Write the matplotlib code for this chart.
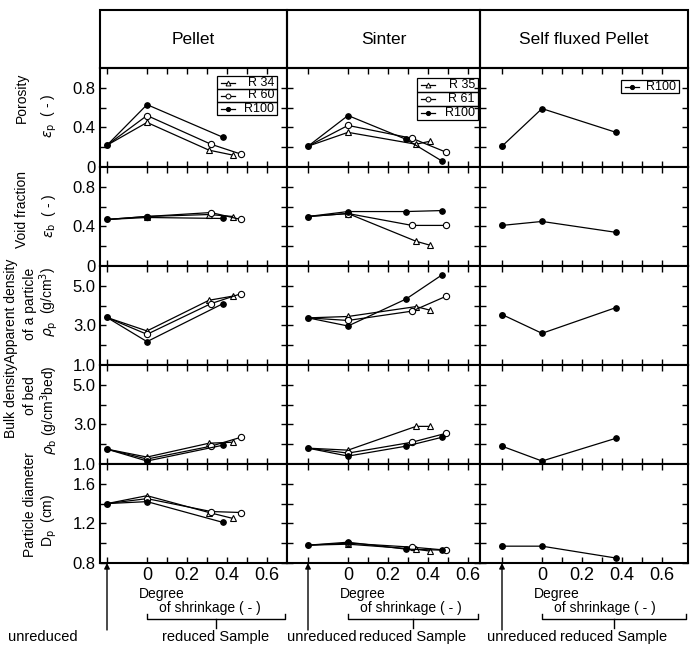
import matplotlib
matplotlib.use("Agg")
import matplotlib.pyplot as plt
from matplotlib.transforms import Affine2D
from matplotlib.patches import Rectangle
from matplotlib.lines import Line2D

plt.rcParams['font.family'] = ['Liberation Sans', 'DejaVu Sans']
plt.rcParams['mathtext.fontset'] = 'dejavusans'

W, H = 696, 648

columns = ["Pellet", "Sinter", "Self fluxed Pellet"]

# unreduced sample is drawn at shrinkage = -0.2
x_unreduced = -0.2

# degree of shrinkage of the reduced samples
pellet_r34_x = [0.0, 0.31, 0.43]
pellet_r60_x = [0.0, 0.32, 0.47]
pellet_r100_x = [0.0, 0.38]
sinter_r35_x = [0.0, 0.34, 0.41]
sinter_r61_x = [0.0, 0.32, 0.49]
sinter_r100_x = [0.0, 0.29, 0.47]
selfp_r100_x = [0.0, 0.37]

# rows: porosity, void fraction, apparent density, bulk density, particle diameter
pellet_unreduced = [0.22, 0.47, 3.40, 1.75, 1.40]
sinter_unreduced = [0.21, 0.50, 3.38, 1.80, 0.98]
selfp_unreduced = [0.21, 0.41, 3.55, 1.90, 0.97]

pellet_r34 = [[0.45, 0.17, 0.12], [0.50, 0.52, 0.50], [2.72, 4.27, 4.48],
              [1.35, 2.05, 2.10], [1.48, 1.31, 1.25]]
pellet_r60 = [[0.52, 0.23, 0.13], [0.50, 0.54, 0.47], [2.55, 4.10, 4.60],
              [1.25, 1.90, 2.35], [1.45, 1.32, 1.31]]
pellet_r100 = [[0.63, 0.30], [0.49, 0.48], [2.18, 4.10], [1.15, 1.95], [1.42, 1.21]]

sinter_r35 = [[0.35, 0.23, 0.26], [0.53, 0.25, 0.21], [3.45, 3.95, 3.77],
              [1.70, 2.90, 2.90], [0.99, 0.94, 0.92]]
sinter_r61 = [[0.42, 0.29, 0.15], [0.53, 0.41, 0.41], [3.25, 3.72, 4.47],
              [1.55, 2.10, 2.55], [1.00, 0.96, 0.93]]
sinter_r100 = [[0.52, 0.28, 0.06], [0.55, 0.55, 0.56], [2.97, 4.33, 5.55],
               [1.40, 1.90, 2.35], [1.01, 0.94, 0.93]]

selfp_r100 = [[0.59, 0.35], [0.45, 0.34], [2.60, 3.90], [1.15, 2.30], [0.97, 0.85]]

row_ylim = [(0, 1.0), (0, 1.0), (1.0, 6.0), (1.0, 6.0), (0.8, 1.8)]
row_yticks = [[0, 0.2, 0.4, 0.6, 0.8], [0, 0.2, 0.4, 0.6, 0.8], [1, 2, 3, 4, 5],
              [1, 2, 3, 4, 5], [0.8, 1.0, 1.2, 1.4, 1.6]]
row_ylabels = [["0", "", "0.4", "", "0.8"], ["0", "", "0.4", "", "0.8"],
               ["1.0", "", "3.0", "", "5.0"], ["1.0", "", "3.0", "", "5.0"],
               ["0.8", "", "1.2", "", "1.6"]]
xticks = [-0.2, 0, 0.1, 0.2, 0.3, 0.4, 0.5, 0.6]
xticklabels = ["", "0", "", "0.2", "", "0.4", "", "0.6"]

styles = {
    "tri": dict(marker="^", mfc="white", ms=4.5),
    "open": dict(marker="o", mfc="white", ms=4.5),
    "filled": dict(marker="o", mfc="black", ms=4),
}

panels = [
    (pellet_unreduced, [("R 34", pellet_r34_x, pellet_r34, "tri"),
                        ("R 60", pellet_r60_x, pellet_r60, "open"),
                        ("R100", pellet_r100_x, pellet_r100, "filled")]),
    (sinter_unreduced, [("R 35", sinter_r35_x, sinter_r35, "tri"),
                        ("R 61", sinter_r61_x, sinter_r61, "open"),
                        ("R100", sinter_r100_x, sinter_r100, "filled")]),
    (selfp_unreduced, [("R100", selfp_r100_x, selfp_r100, "filled")]),
]

fig = plt.figure(figsize=(W / 100, H / 100), dpi=100)
pix = Affine2D().scale(1.0 / W, -1.0 / H).translate(0, 1) + fig.transFigure

col_edges = [100, 287, 480, 688]
col_zero = [147, 348, 542]
row_edges = [68, 167, 266, 365, 464, 563]
px_per_unit = 200.0

# header boxes
for c in range(3):
    fig.add_artist(Rectangle((col_edges[c], 10), col_edges[c + 1] - col_edges[c], 58,
                             transform=pix, fill=False, lw=1.5, ec="k"))
    fig.text((col_edges[c] + col_edges[c + 1]) / 2, 39, columns[c], transform=pix,
             ha="center", va="center", fontsize=12.5)

axes = {}
for r in range(5):
    for c in range(3):
        l, rt = col_edges[c], col_edges[c + 1]
        top, bot = row_edges[r], row_edges[r + 1]
        ax = fig.add_axes([l / W, 1 - bot / H, (rt - l) / W, (bot - top) / H])
        axes[r, c] = ax
        unred, series = panels[c]
        for label, xs, vals, st in series:
            ax.plot([x_unreduced] + xs, [unred[r]] + vals[r], color="k", lw=0.9,
                    mec="k", mew=0.8, markevery=list(range(1, len(xs) + 1)),
                    **styles[st])
        ax.plot([x_unreduced], [unred[r]], "o", color="k", ms=4)
        ax.set_xlim((l - col_zero[c]) / px_per_unit, (rt - col_zero[c]) / px_per_unit)
        ax.set_ylim(*row_ylim[r])
        ax.set_xticks(xticks)
        ax.set_yticks(row_yticks[r])
        ax.tick_params(direction="in", length=4, width=1, top=True, right=True,
                       labelsize=12, pad=3)
        if c == 0:
            ax.set_yticklabels(row_ylabels[r])
        else:
            ax.set_yticklabels([])
        if r == 4:
            ax.set_xticklabels(xticklabels, fontsize=13)
        else:
            ax.set_xticklabels([])
        for sp in ax.spines.values():
            sp.set_linewidth(1.5)

# legends inside the porosity row
legend_boxes = [(217, 76, 60, 13), (417, 78, 61, 14), (621, 80, 58, 13)]
for c in range(3):
    x0, y0, bw, bh = legend_boxes[c]
    for i, (label, xs, vals, st) in enumerate(panels[c][1]):
        yt = y0 + i * bh
        fig.add_artist(Rectangle((x0, yt), bw, bh, transform=pix, fill=False,
                                 lw=0.9, ec="k"))
        yc = yt + bh / 2
        fig.add_artist(Line2D([x0 + 4, x0 + 18], [yc, yc], transform=pix, color="k", lw=0.9))
        fig.add_artist(Line2D([x0 + 11], [yc], transform=pix, color="k", mec="k",
                              mew=0.7, **dict(styles[st], ms=styles[st]["ms"] - 1)))
        fig.text(x0 + bw - 3, yc, label, transform=pix, ha="right", va="center",
                 fontsize=9)

# y-axis titles
left_titles = [
    (22, 98, "Porosity"), (49, 116, r"$\varepsilon_\mathrm{p}$  ( - )"),
    (22, 210, "Void fraction"), (49, 216, r"$\varepsilon_\mathrm{b}$  ( - )"),
    (11, 311, "Apparent density"), (30, 304, "of a particle"),
    (49, 302, r"$\rho_\mathrm{p}$  (g/cm$^3$)"),
    (11, 400, "Bulk density"), (30, 396, "of bed"),
    (49, 410, r"$\rho_\mathrm{b}$ (g/cm$^3$bed)"),
    (30, 505, "Particle diameter"), (49, 520, r"D$_\mathrm{p}$  (cm)"),
]
for x, y, s in left_titles:
    fig.text(x, y, s, transform=pix, rotation=90, ha="center", va="center", fontsize=10)

# bottom annotations: arrows to the unreduced sample and bracket for reduced ones
unred_text_x = [-0.52, -0.13, -0.10]
for c in range(3):
    ax = axes[4, c]
    tr = ax.get_xaxis_transform()
    hgt = row_edges[5] - row_edges[4]
    fy = lambda p: -(p - row_edges[5]) / hgt
    ax.annotate("", xy=(x_unreduced, 0), xycoords=tr,
                xytext=(x_unreduced, fy(630)), textcoords=tr,
                arrowprops=dict(arrowstyle="-|>", lw=1, color="k", mutation_scale=8,
                                shrinkA=0, shrinkB=0), annotation_clip=False)
    xr = ax.get_xlim()[1] - 0.01
    xm = xr / 2
    ax.plot([0, 0, xr, xr], [fy(614), fy(619), fy(619), fy(614)], color="k", lw=1,
            transform=tr, clip_on=False)
    ax.plot([xm, xm], [fy(619), fy(628)], color="k", lw=1, transform=tr, clip_on=False)
    ax.text(-0.04, fy(594), "Degree", transform=tr, ha="left", va="center", fontsize=10)
    ax.text(0.06, fy(608), "of shrinkage ( - )", transform=tr, ha="left", va="center",
            fontsize=10)
    ax.text(xm, fy(637), "reduced Sample", transform=tr, ha="center", va="center",
            fontsize=10.5)
    ax.text(unred_text_x[c], fy(637), "unreduced", transform=tr, ha="center",
            va="center", fontsize=10.5)

fig.savefig("out.png", dpi=100)
